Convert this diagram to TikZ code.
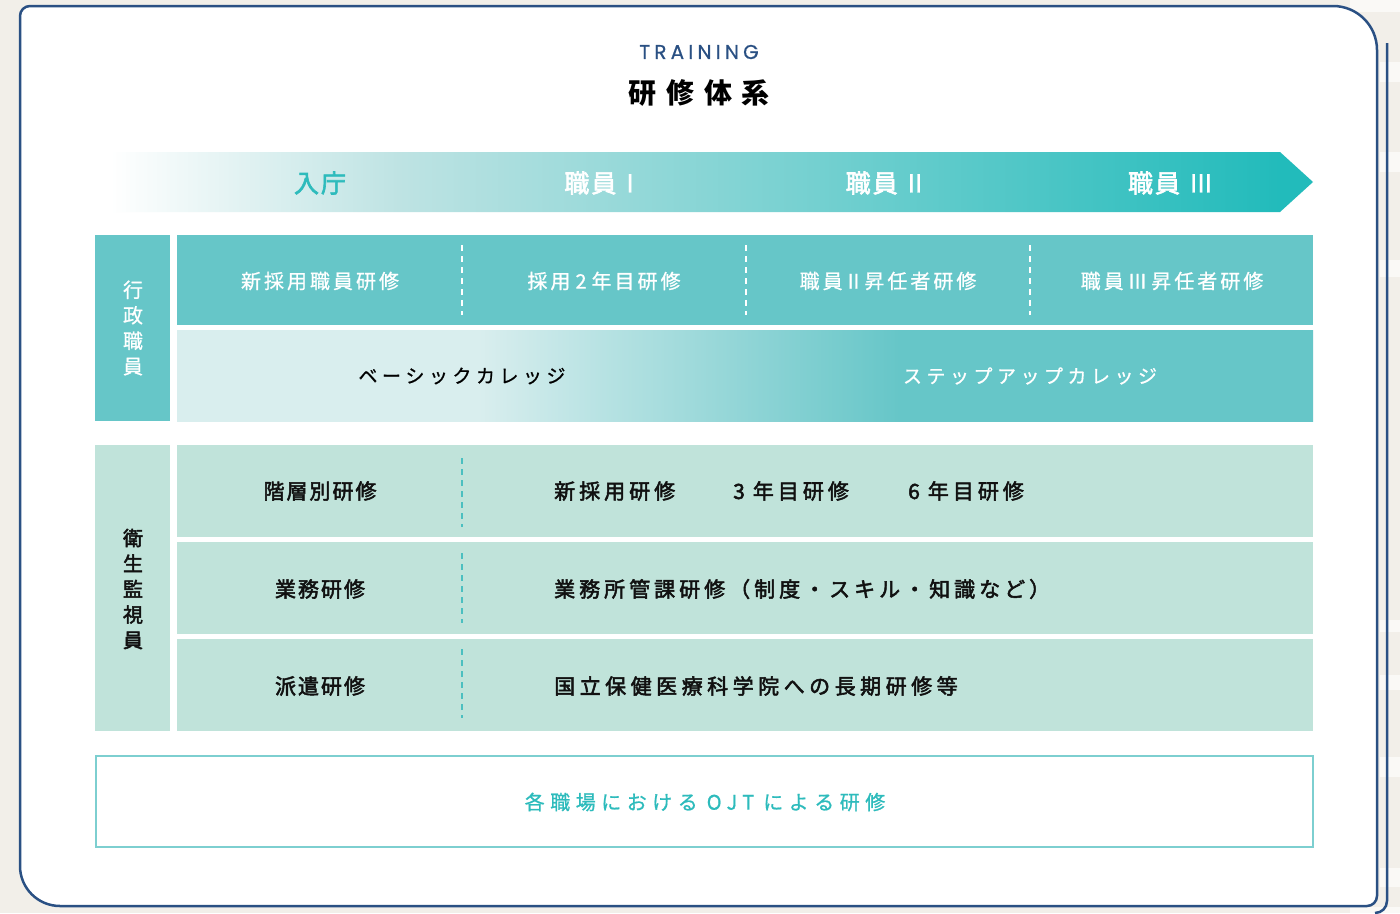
\documentclass[tikz,border=0pt]{standalone}
\usepackage{fontspec}
\newfontfamily\cjk{Noto Sans CJK JP}
\newfontfamily\cjkm[FakeBold=2.4]{Noto Sans CJK JP}
\newfontfamily\cjkl[FakeBold=0.8]{Noto Sans CJK JP}
\newfontfamily\lat[FakeBold=0.6]{Poppins}
\definecolor{cBg}{HTML}{F2EFE9}
\definecolor{cStripe}{HTML}{FAF9F6}
\definecolor{cNavy}{HTML}{2A5083}
\definecolor{cHead}{HTML}{66C6C8}
\definecolor{cMint}{HTML}{C0E3DA}
\definecolor{cPale}{HTML}{D9EEEE}
\definecolor{cBandA}{HTML}{BEE3E3}
\definecolor{cBandB}{HTML}{22BBBB}
\definecolor{cTealTxt}{HTML}{2DBBBC}
\definecolor{cDash}{HTML}{4BBFC0}
\definecolor{cBox}{HTML}{7DCFD0}
\definecolor{cInk}{HTML}{111111}
\pgfdeclarehorizontalshading{rowtwo}{100bp}{color(0bp)=(cPale); color(38.3bp)=(cPale); color(56.8bp)=(cHead); color(100bp)=(cHead)}
\pgfdeclarehorizontalshading{bandsh}{100bp}{color(0bp)=(white); color(25bp)=(white); color(37bp)=(cBandA); color(73.6bp)=(cBandB); color(100bp)=(cBandB)}
\makeatletter
\newcommand\lsp[2]{\def\lsp@k{#1}\@tfor\lsp@c:=#2\do{\lsp@c\kern\lsp@k}\unkern}
\makeatother
\tikzset{
  card/.style={draw=cNavy, line width=2.5pt, fill=white},
  wlbl/.style={inner sep=0pt, text=white, font=\cjkl\fontsize{20}{24}\selectfont},
  klbl/.style={inner sep=0pt, text=cInk, font=\cjkm\fontsize{21}{24}\selectfont},
  bandlbl/.style={inner sep=0pt, text=white, font=\cjkm\fontsize{25}{28}\selectfont},
  katalbl/.style={inner sep=0pt, font=\cjkl\fontsize{19}{24}\selectfont},
  vdash/.style={dash pattern=on 6pt off 5pt, line width=1.2pt},
  stripe/.style={fill=cStripe, draw=none}
}
\begin{document}
\begin{tikzpicture}[x=1pt,y=-1pt]
\useasboundingbox (0,0) rectangle (1400,913);
\fill[cBg] (0,0) rectangle (1400,913);
% faint stripes outside the card
\fill[stripe] (1350,0) rectangle (1400,12);
\fill[stripe] (1380,62) rectangle (1400,82);
\fill[stripe] (1380,152) rectangle (1400,172);
\fill[stripe] (1380,260) rectangle (1400,277);
\fill[stripe] (1380,620) rectangle (1400,632);
\fill[stripe] (1380,675) rectangle (1400,690);
\fill[stripe] (1380,757) rectangle (1400,777);
\fill[stripe] (1380,868) rectangle (1400,887);
\fill[stripe] (1350,907) rectangle (1400,913);
% shadow line
\draw[cNavy, line width=2.5pt] (1387,43) -- (1387,901) arc[start angle=0, end angle=90, radius=12];
% card
\draw[card] (30,6) -- (1333,6) arc[start angle=-90, end angle=0, radius=44]
  -- (1377,896) arc[start angle=0, end angle=90, radius=10]
  -- (60,906) arc[start angle=90, end angle=180, radius=40]
  -- (20,16) arc[start angle=180, end angle=270, radius=10] -- cycle;
% title
\node[inner sep=0pt, text=cNavy, font=\lat\fontsize{20}{22}\selectfont] (tr) at (699,52) {\lsp{4.2pt}{TRAINING}};
\node[inner sep=0pt, text=black, font=\cjk\bfseries\fontsize{28}{32}\selectfont] (ttl) at (699,93) {\lsp{10pt}{研修体系}};
% band arrow
\shade[shading=bandsh] (110,152) -- (1280,152) -- (1313,182) -- (1280,212) -- (110,212) -- cycle;
\node[bandlbl, text=cTealTxt] (b0) at (320,183) {\lsp{2pt}{入庁}};
\node[bandlbl] (b1) at (599,183) {\lsp{2pt}{職員}\kern10pt{\cjkl I}};
\node[bandlbl] (b2) at (884,183) {\lsp{2pt}{職員}\kern10pt{\cjkl II}};
\node[bandlbl] (b3) at (1170,183) {\lsp{2pt}{職員}\kern10pt{\cjkl III}};
% section 1
\fill[cHead] (95,235) rectangle (170,421);
\node[wlbl, align=center, font=\cjkl\fontsize{20}{25.5}\selectfont] (v1) at (133,328) {行\\政\\職\\員};
\fill[cHead] (177,235) rectangle (1313,325);
\draw[white, vdash] (462,245) -- (462,315);
\draw[white, vdash] (746,245) -- (746,315);
\draw[white, vdash] (1030,245) -- (1030,315);
\node[wlbl] (a1) at (320,281) {\lsp{3pt}{新採用職員研修}};
\node[wlbl] (a2) at (604,281) {\lsp{3pt}{採用}\kern5pt 2\kern5pt\lsp{3pt}{年目研修}};
\node[wlbl] (a3) at (888,281) {\lsp{3pt}{職員}\kern5pt II\kern5pt\lsp{3pt}{昇任者研修}};
\node[wlbl] (a4) at (1172,281) {\lsp{3pt}{職員}\kern5pt III\kern5pt\lsp{3pt}{昇任者研修}};
\shade[shading=rowtwo] (177,330) rectangle (1313,421);
\node[katalbl, text=black] (c1) at (462,376) {\lsp{4.5pt}{ベーシックカレッジ}};
\node[katalbl, text=white] (c2) at (1030,376) {\lsp{4.5pt}{ステップアップカレッジ}};
% section 2
\fill[cMint] (95,445) rectangle (170,731);
\node[klbl, align=center, font=\cjkm\fontsize{20}{25.5}\selectfont] (v2) at (133,589) {衛\\生\\監\\視\\員};
\fill[cMint] (177,445) rectangle (1313,537);
\fill[cMint] (177,542) rectangle (1313,634);
\fill[cMint] (177,639) rectangle (1313,731);
\draw[cDash, vdash] (462,458) -- (462,527);
\draw[cDash, vdash] (462,553) -- (462,623);
\draw[cDash, vdash] (462,649) -- (462,718);
\node[klbl] (d1) at (320,491) {\lsp{2pt}{階層別研修}};
\node[klbl] (d2) at (320,589) {\lsp{2pt}{業務研修}};
\node[klbl] (d3) at (320,686) {\lsp{2pt}{派遣研修}};
\node[klbl, anchor=west] (e1) at (554,491) {\lsp{4pt}{新採用研修}};
\node[klbl, anchor=west] (e2) at (733,491) {3\kern8pt\lsp{4pt}{年目研修}};
\node[klbl, anchor=west] (e3) at (908,491) {6\kern8pt\lsp{4pt}{年目研修}};
\node[klbl, anchor=west] (f1) at (554,589) {\lsp{4pt}{業務所管課研修（制度・スキル・知識など）}};
\node[klbl, anchor=west] (g1) at (554,686) {\lsp{4.5pt}{国立保健医療科学院への長期研修等}};
% OJT box
\draw[cBox, line width=1.5pt, fill=white] (96,756) rectangle (1313,847);
\node[inner sep=0pt, text=cTealTxt, font=\cjkl\fontsize{20}{24}\selectfont] (ojt) at (705,802) {\lsp{5.5pt}{各職場における}\kern9pt\lsp{5pt}{OJT}\kern9pt\lsp{5.5pt}{による研修}};
\end{tikzpicture}
\end{document}
